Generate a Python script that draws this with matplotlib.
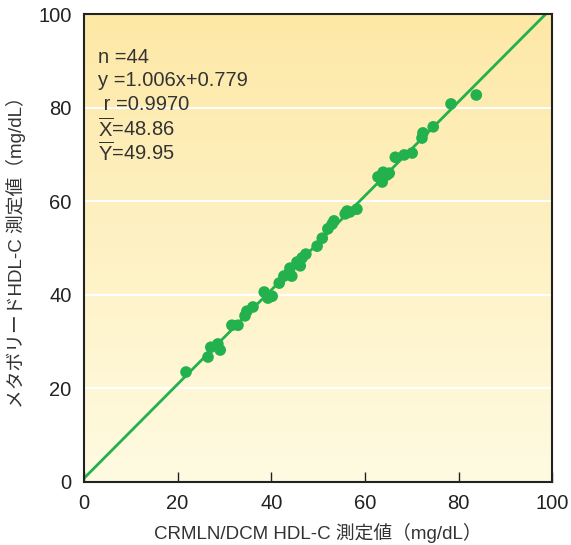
import numpy as np
import matplotlib
matplotlib.use("Agg")
import matplotlib.pyplot as plt

plt.rcParams['font.family'] = ['Liberation Sans', 'Noto Sans CJK JP', 'DejaVu Sans']
plt.rcParams['mathtext.fontset'] = 'custom'
plt.rcParams['mathtext.rm'] = 'Liberation Sans'
plt.rcParams['mathtext.sf'] = 'Liberation Sans'

# Datos
x_crmln = [21.8, 26.5, 27.1, 28.6, 29.1, 31.6, 32.9, 34.4, 34.8, 36.1,
           38.5, 39.3, 40.2, 41.7, 42.7, 43.6, 44.0, 44.4, 45.5, 46.6,
           47.4, 49.8, 50.9, 52.1, 53.0, 53.4, 55.8, 56.2, 56.8, 58.3,
           62.8, 63.7, 63.9, 64.7, 65.2, 66.5, 68.4, 70.1, 72.2, 72.4,
           74.6, 78.4, 83.8, 46.2]
y_meta = [23.5, 26.7, 28.8, 29.5, 28.2, 33.5, 33.5, 35.5, 36.5, 37.4,
          40.6, 39.3, 39.7, 42.5, 44.0, 44.4, 45.7, 44.0, 47.0, 47.9,
          48.7, 50.4, 52.1, 54.1, 55.1, 55.8, 57.3, 57.9, 57.7, 58.3,
          65.2, 64.1, 66.2, 65.6, 66.0, 69.4, 69.9, 70.3, 73.5, 74.6,
          75.9, 80.8, 82.7, 46.2]

slope = 1.006
intercept = 0.779
stats_lines = ['n =44', 'y =1.006x+0.779', ' r =0.9970',
               r'$\overline{\mathrm{X}}$=48.86', r'$\overline{\mathrm{Y}}$=49.95']
ticks = [0, 20, 40, 60, 80, 100]

green = '#22b14c'

fig = plt.figure(figsize=(5.71, 5.45), dpi=100)
ax = fig.add_axes([0.147, 0.1156, 0.82, 0.8586])

# Fondo degradado amarillo
grad = np.linspace(0, 1, 256).reshape(-1, 1)
cmap = matplotlib.colors.LinearSegmentedColormap.from_list('bg', ['#fffbe2', '#fde8a6'])
ax.imshow(grad, extent=[0, 100, 0, 100], origin='lower', cmap=cmap,
          aspect='auto', zorder=0)

for yy in ticks[1:-1]:
    ax.axhline(yy, color='white', linewidth=1.5, zorder=1)

xl = np.array([0, 100])
ax.plot(xl, slope * xl + intercept, color=green, linewidth=2, zorder=2)
ax.scatter(x_crmln, y_meta, s=70, color=green, zorder=3, edgecolors='none')

for i, t in enumerate(stats_lines):
    ax.text(3.0, 90.8 - i * 5.1, t, fontsize=14.5, color='#333333',
            va='center', ha='left', zorder=4)

ax.set_xlim(0, 100)
ax.set_ylim(0, 100)
ax.set_xticks(ticks)
ax.set_yticks(ticks)
ax.tick_params(direction='in', length=7, width=1, labelsize=14.5, colors='#222222', pad=9)
ax.tick_params(axis='y', length=0)
for s in ax.spines.values():
    s.set_linewidth(1.5)
    s.set_color('#222222')

ax.set_xlabel('CRMLN/DCM HDL-C 測定値（mg/dL）', fontsize=13.5, color='#333333', labelpad=7)
ax.set_ylabel('メタボリードHDL-C 測定値（mg/dL）', fontsize=13.5, color='#333333', labelpad=9)

fig.savefig('out.png', dpi=100)
